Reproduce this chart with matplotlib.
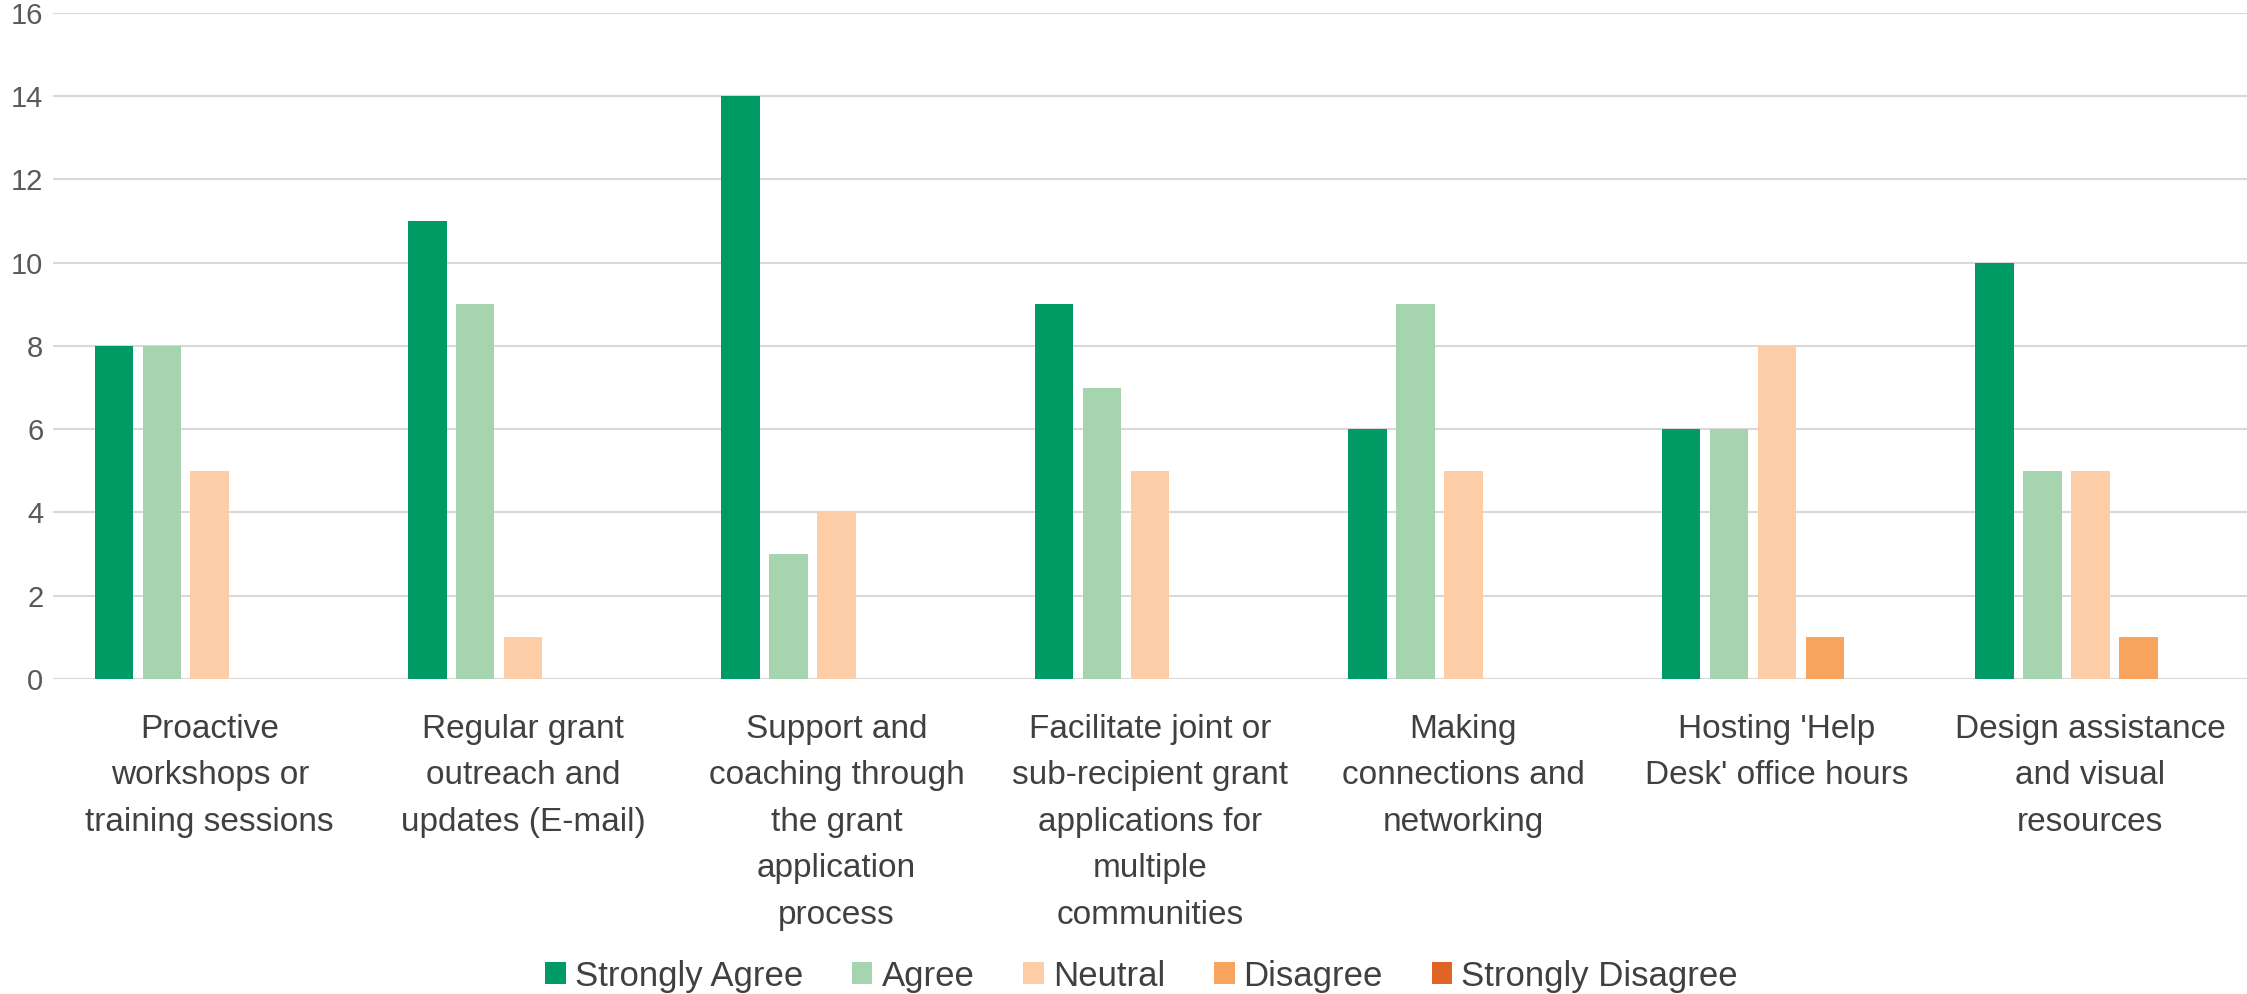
import numpy as np
import matplotlib
matplotlib.use("Agg")
from matplotlib import pyplot as plt

plt.rcParams["font.family"] = ["Liberation Sans", "DejaVu Sans"]

categories = [
    "Proactive\nworkshops or\ntraining sessions",
    "Regular grant\noutreach and\nupdates (E-mail)",
    "Support and\ncoaching through\nthe grant\napplication\nprocess",
    "Facilitate joint or\nsub-recipient grant\napplications for\nmultiple\ncommunities",
    "Making\nconnections and\nnetworking",
    "Hosting 'Help\nDesk' office hours",
    "Design assistance\nand visual\nresources",
]
strongly_agree = [8, 11, 14, 9, 6, 6, 10]
agree = [8, 9, 3, 7, 9, 6, 5]
neutral = [5, 1, 4, 5, 5, 8, 5]
disagree = [0, 0, 0, 0, 0, 1, 1]
strongly_disagree = [0, 0, 0, 0, 0, 0, 0]

series = [
    ("Strongly Agree", strongly_agree, "#009B65"),
    ("Agree", agree, "#A5D4AE"),
    ("Neutral", neutral, "#FCCDA6"),
    ("Disagree", disagree, "#F8A45F"),
    ("Strongly Disagree", strongly_disagree, "#E06425"),
]

fig = plt.figure(figsize=(22.47, 9.94), dpi=100)
ax = fig.add_axes([0.0236, 0.317, 0.9764, 0.670])

x = np.arange(len(categories))
slot = 0.153
width = 0.123
for i, (name, vals, col) in enumerate(series):
    ax.bar(x + (i - 2) * slot, vals, width, color=col, label=name, zorder=3)

ax.set_xlim(-0.5, len(categories) - 0.5)
ax.set_ylim(0, 16)
ax.set_yticks(range(0, 17, 2))
ax.grid(axis="y", color="#D9D9D9", linewidth=1.5, zorder=0)
for s in ax.spines.values():
    s.set_visible(False)
ax.tick_params(axis="both", length=0, colors="#595959")
ax.tick_params(axis="y", labelsize=21, pad=7)
ax.set_xticks(x)
ax.set_xticklabels(categories, fontsize=24, color="#404040", linespacing=1.65)
ax.tick_params(axis="x", pad=25)

ax.legend(loc="center", bbox_to_anchor=(0.508, 0.018), bbox_transform=fig.transFigure,
          ncol=5, frameon=False, fontsize=25, handlelength=0.6, handleheight=0.6,
          columnspacing=1.4, handletextpad=0.26, labelcolor="#404040")

fig.savefig("out.png", dpi=100)
